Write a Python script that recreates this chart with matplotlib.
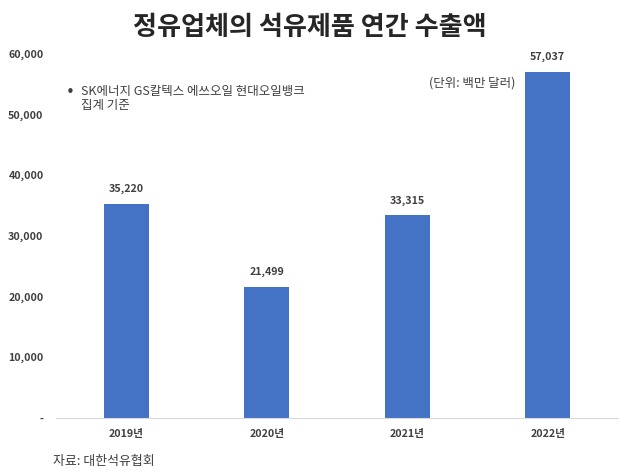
import matplotlib
matplotlib.use("Agg")
import matplotlib.pyplot as plt

years = ["2019년", "2020년", "2021년", "2022년"]
exports = [35220, 21499, 33315, 57037]
yticks = [0, 10000, 20000, 30000, 40000, 50000, 60000]
ytick_labels = ["-", "10,000", "20,000", "30,000", "40,000", "50,000", "60,000"]

title = "정유업체의 석유제품 연간 수출액"
note = "SK에너지 GS칼텍스 에쓰오일 현대오일뱅크\n집계 기준"
unit = "(단위: 백만 달러)"
source = "자료: 대한석유협회"

plt.rcParams["font.family"] = ["Noto Sans CJK KR", "DejaVu Sans"]

BAR = "#4472C4"
TXT = "#404040"

fig = plt.figure(figsize=(6.3, 4.76), dpi=100)
ax = fig.add_axes([0.089, 0.1227, 0.892, 0.7647])

x = range(len(years))
bars = ax.bar(x, exports, width=0.32, color=BAR)
for b, v in zip(bars, exports):
    ax.annotate(f"{v:,}", (b.get_x() + b.get_width() / 2, v),
                xytext=(0, 7), textcoords="offset points",
                ha="center", va="bottom", fontsize=7.7, fontweight="bold", color=TXT)

ax.set_xlim(-0.5, len(years) - 0.5)
ax.set_ylim(0, 60000)
ax.set_xticks(list(x))
ax.set_xticklabels(years, fontsize=7.7, fontweight="bold", color=TXT)
ax.set_yticks(yticks)
ax.set_yticklabels(ytick_labels, fontsize=7.7, fontweight="bold", color=TXT)
ax.tick_params(axis="both", length=0)
ax.tick_params(axis="y", pad=9)
ax.tick_params(axis="x", pad=8)

for s in ["top", "right", "left"]:
    ax.spines[s].set_visible(False)
ax.spines["bottom"].set_color("#d9d9d9")
ax.spines["bottom"].set_linewidth(0.8)

fig.text(0.492, 0.943, title, ha="center", va="center",
         fontsize=18.8, fontweight="bold", color="#262626")
fig.text(0.104, 0.805, "•", ha="left", va="center", fontsize=11, color=TXT,
         family="DejaVu Sans")
fig.text(0.128, 0.822, note, ha="left", va="top", fontsize=9,
         color=TXT, linespacing=1.1)
fig.text(0.818, 0.825, unit, ha="right", va="center", fontsize=9, color=TXT)
fig.text(0.084, 0.030, source, ha="left", va="center", fontsize=9.3, color=TXT)

fig.savefig("out.png", dpi=100, facecolor="white")
